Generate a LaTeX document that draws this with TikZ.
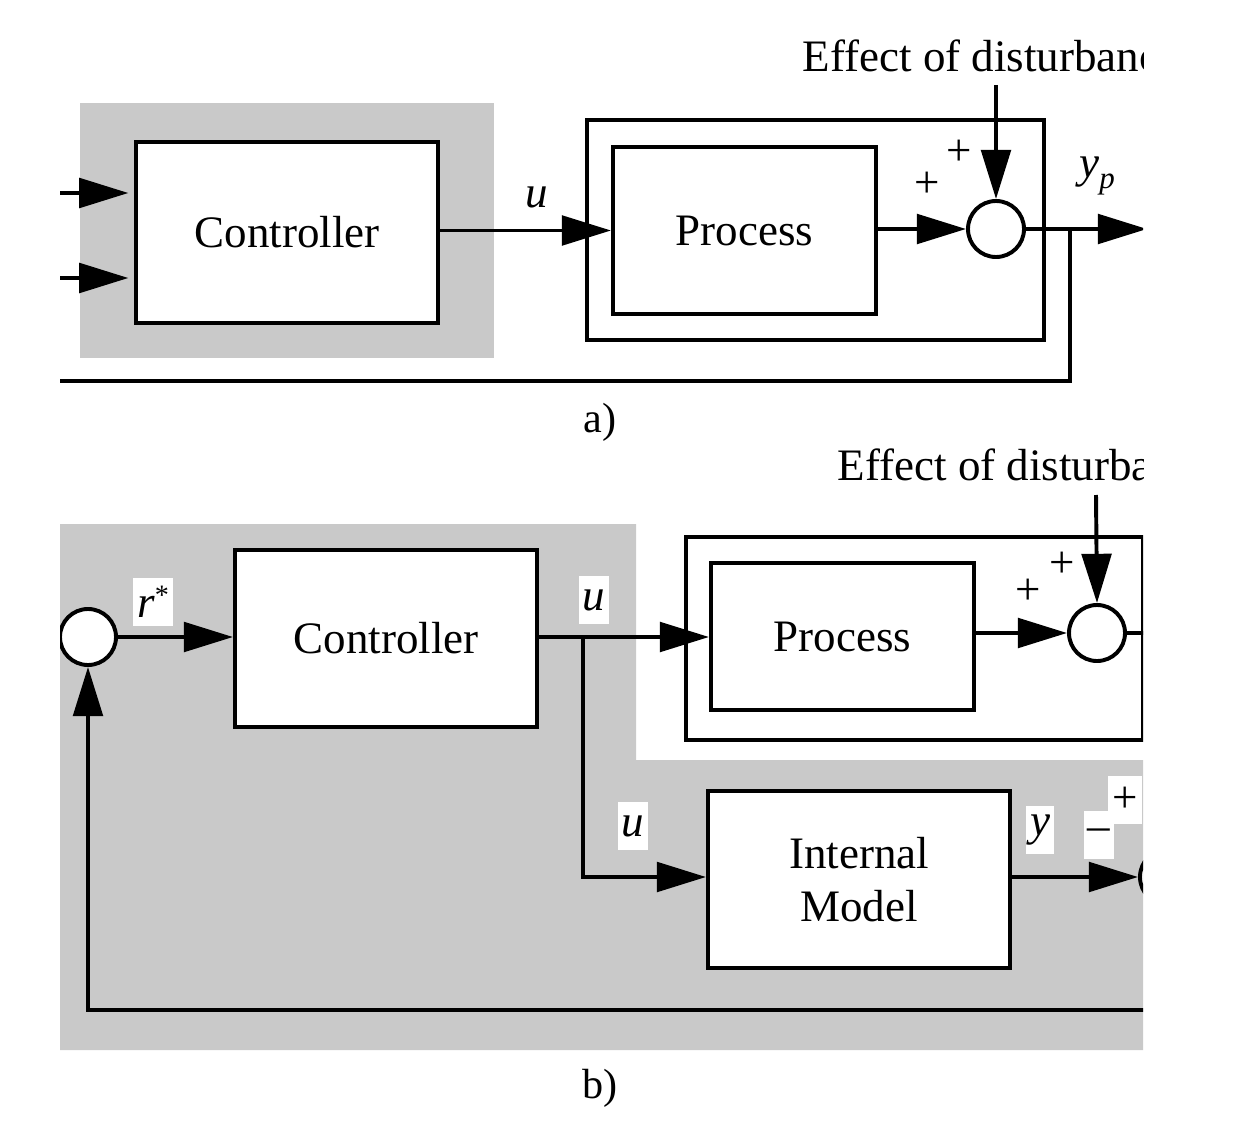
\documentclass[tikz,border=0pt]{standalone}
\usepackage{fontspec}
\setmainfont{Liberation Serif}
\usetikzlibrary{arrows.meta,positioning}
\definecolor{PanelGray}{RGB}{201,201,201}
\tikzset{
  block/.style={draw,line width=2.8pt,fill=white,inner sep=0pt,align=center,
    font=\fontsize{32}{34}\selectfont},
  frame/.style={draw,line width=2.8pt,inner sep=0pt},
  sumnode/.style={draw,circle,line width=2.8pt,fill=white,minimum size=1.4cm,
    inner sep=0pt},
  signal/.style={line width=2.8pt,-{Triangle[length=35pt,width=21pt]}},
  wire/.style={line width=2.8pt},
  lbl/.style={font=\fontsize{32}{34}\selectfont,inner sep=1pt},
  tag/.style={fill=white,inner sep=3pt,minimum height=1.2cm,
    font=\fontsize{32}{34}\selectfont}
}

\begin{document}
\begin{tikzpicture}[x=0.025cm,y=-0.025cm]
  \useasboundingbox (0,0) rectangle (1244,1136);
  \begin{scope}
    \clip (60,0) rectangle (1143,1136);
    % panel shading
    \fill[PanelGray] (80,103) rectangle (494,358);
    \fill[PanelGray] (60,524) -- (636,524) -- (636,760) -- (1143,760)
      -- (1143,1050) -- (60,1050) -- cycle;

    % a) plain feedback loop
    \node[block,minimum width=7.55cm,minimum height=4.525cm] (ctrlA) at (287,232.5) {Controller};
    \node[frame,minimum width=11.425cm,minimum height=5.5cm] (procOutA) at (815.5,230) {};
    \node[block,minimum width=6.575cm,minimum height=4.175cm] (procA) at (744.5,230.5) {Process};
    \node[sumnode] (sumA) at (996,229) {};
    \node[lbl,anchor=base west] (distTxtA) at (801,72) {Effect of disturbance};
    \coordinate (distA) at (996,85);
    \coordinate (inA1) at (55,193);
    \coordinate (inA2) at (55,278);
    \coordinate (outA) at (1147,229);
    \coordinate (tapA) at (1070,229);
    \coordinate (fbA) at (55,381);

    \draw[signal,shorten >=4pt] (inA1) -- (inA1 -| ctrlA.west);
    \draw[signal,shorten >=4pt] (inA2) -- (inA2 -| ctrlA.west);
    \draw[signal] (ctrlA.east |- procA) -- (procA.west);
    \draw[signal] (procA.east |- sumA) -- (sumA.west);
    \draw[signal] (distA) -- (sumA.north);
    \draw[signal] (sumA.east) -- (outA);
    \draw[wire] (tapA) |- (fbA);

    \node[lbl] (uA) at (537,197) {\textit{u}};
    \node[lbl] (ypA) at (1097,176) {\textit{y}\raisebox{-0.25em}{\fontsize{22}{24}\selectfont\textit{p}}};
    \node[lbl] (plusA1) at (927,185) {+};
    \node[lbl] (plusA2) at (959,153) {+};
    \node[lbl,font=\fontsize{30}{32}\selectfont] (capA) at (600,422) {a)};

    % b) internal model control
    \node[frame,minimum width=11.425cm,minimum height=5.075cm] (procOutB) at (914.5,638.5) {};
    \node[block,minimum width=7.55cm,minimum height=4.425cm] (ctrlB) at (386,638.5) {Controller};
    \node[block,minimum width=6.575cm,minimum height=3.675cm] (procB) at (842.5,636.5) {Process};
    \node[block,minimum width=7.55cm,minimum height=4.425cm,font=\fontsize{32}{38}\selectfont] (modelB) at (859,879.5) {Internal\\Model};
    \node[sumnode] (sumB) at (1097,633) {};
    \node[sumnode] (sumL) at (88,637) {};
    \node[sumnode] (sumR) at (1168,877) {};
    \node[lbl,anchor=base west] (distTxtB) at (836,480) {Effect of disturbance};
    \coordinate (distB) at (1096,495);
    \coordinate (brB) at (583,637);
    \coordinate (outB) at (1150,633);
    \coordinate (fbB) at (1150,1010);

    \draw[signal] (sumL.east) -- (ctrlB.west |- sumL);
    \draw[signal] (ctrlB.east |- sumL) -- (procB.west |- sumL);
    \draw[signal] (brB) |- (modelB.west |- 0,877);
    \draw[signal] (procB.east |- sumB) -- (sumB.west);
    \draw[signal] (distB) -- (sumB.north);
    \draw[wire] (sumB.east) -- (outB);
    \draw[signal] (modelB.east |- sumR) -- (sumR.west);
    \draw[signal] (fbB) -| (sumL.south);

    \node[tag] (rB) at (153,602) {\textit{r}\raisebox{0.3em}{\fontsize{20}{20}\selectfont *}};
    \node[tag] (uB1) at (594,600) {\textit{u}};
    \node[tag] (uB2) at (633,826) {\textit{u}};
    \node[tag] (yB) at (1040,830) {\textit{y}};
    \node[tag] (minusB) at (1099,835) {\textendash};
    \node[tag] (plusB3) at (1125,800) {+};
    \node[lbl] (plusB1) at (1028,592) {+};
    \node[lbl] (plusB2) at (1062,565) {+};
    \node[lbl,font=\fontsize{30}{32}\selectfont] (capB) at (600,1088) {b)};
  \end{scope}
\end{tikzpicture}
\end{document}
